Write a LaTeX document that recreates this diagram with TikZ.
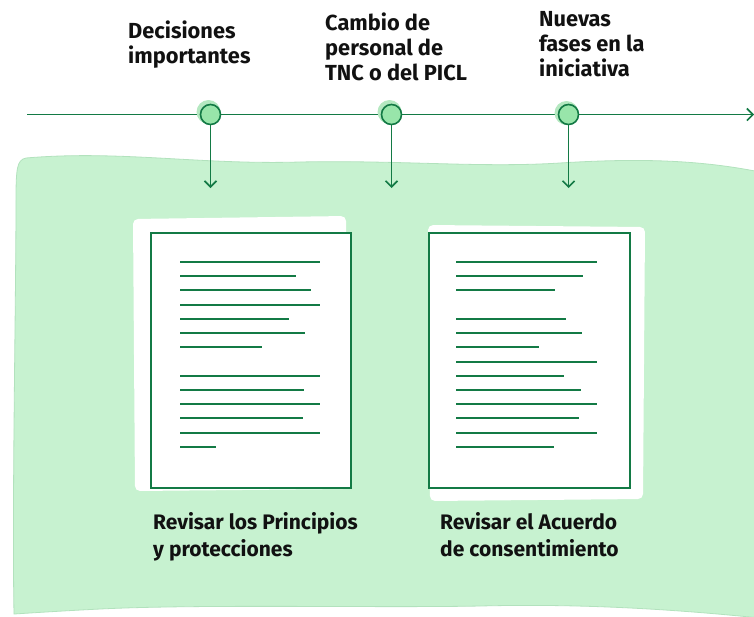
\documentclass[tikz,border=0pt]{standalone}
\usepackage{fontspec}
\setmainfont{Fira Sans}
\usetikzlibrary{arrows.meta}
\definecolor{dkgreen}{HTML}{137A45}
\definecolor{bgreen}{HTML}{C7F2D0}
\definecolor{bedge}{HTML}{B2E2BD}
\definecolor{cgreen}{HTML}{98E5AA}
\definecolor{hgreen}{HTML}{B4E8C0}
\definecolor{txt}{HTML}{111111}
\begin{document}
\begin{tikzpicture}[x=1pt,y=-1pt,
  conn/.style={draw=dkgreen,line width=1.6pt,-{Straight Barb[length=6pt,width=12pt]}},
  event/.style={circle,draw=dkgreen,fill=cgreen,line width=1.6pt,minimum size=20pt,inner sep=0pt},
  halo/.style={circle,fill=hgreen,minimum size=24pt,inner sep=0pt},
  toplabel/.style={anchor=base west,align=left,inner sep=0pt,text=txt,font=\bfseries\fontsize{21.8}{25}\selectfont},
  doclabel/.style={anchor=base west,align=left,inner sep=0pt,text=txt,font=\bfseries\fontsize{21}{27}\selectfont},
  docbox/.style={draw=dkgreen,line width=1.6pt,fill=white,anchor=north west,minimum width=200pt,minimum height=255pt,inner sep=0pt},
  textline/.style={draw=dkgreen,line width=1.8pt}]
\useasboundingbox (0,0) rectangle (754,616);
% background wash
\fill[bgreen,draw=bedge,line width=0.8pt] (26,158) .. controls (120,150) and (200,165) .. (300,162)
  .. controls (400,160) and (480,168) .. (560,163) .. controls (640,158) and (700,160) .. (760,172)
  -- (760,618) .. controls (700,612) and (600,603) .. (480,606)
  .. controls (380,608) and (200,604) .. (100,609) .. controls (60,611) and (30,613) .. (14,614)
  .. controls (12,500) and (16,300) .. (16,200) .. controls (16,168) and (17,160) .. (26,158) -- cycle;
% white halos behind documents
\fill[white,rounded corners=5pt] (133,219) -- (346,216) -- (348,489) -- (135,491) -- cycle;
\fill[white,rounded corners=5pt] (428,225) -- (645,227) -- (643,499) -- (430,501) -- cycle;
% timeline
\coordinate (ts) at (27,114.5);
\coordinate (te) at (754,114.5);
\draw[conn] (ts) -- (te);
\node[halo] at (208.5,112) {};
\node[halo] at (389.5,112) {};
\node[halo] at (566.5,113) {};
\node[event] (c1) at (210.5,114.5) {};
\node[event] (c2) at (391.5,114.5) {};
\node[event] (c3) at (568.5,114.5) {};
\coordinate (a1) at (210.5,188);
\coordinate (a2) at (391.5,188);
\coordinate (a3) at (568.5,188);
\draw[conn] (c1.south) -- (a1);
\draw[conn] (c2.south) -- (a2);
\draw[conn] (c3.south) -- (a3);
% top labels (anchor = baseline of last line)
\node[toplabel] (l1) at (128,63) {Decisiones\\importantes};
\node[toplabel] (l2) at (325,80) {Cambio de\\personal de\\TNC o del PICL};
\node[toplabel] (l3) at (539,76) {Nuevas\\fases en la\\iniciativa};
% documents
\node[docbox] (d1) at (150,232) {};
\node[docbox,minimum width=201pt] (d2) at (428,232) {};
\begin{scope}[shift={(d1.north west)}]
  \foreach \yy/\ll in {30/140,44/116,58/131,73/140,87/109,101/125,115/82,144/140,158/124,172/140,186/123,201/140,215/36}
    \draw[textline] (30,\yy) -- ++(\ll,0);
\end{scope}
\begin{scope}[shift={(d2.north west)}]
  \foreach \yy/\ll in {30/141,44/127,58/99,87/110,101/126,115/83,130/141,144/108,158/125,172/141,186/123,201/141,215/98}
    \draw[textline] (28,\yy) -- ++(\ll,0);
\end{scope}
% document labels (anchor = baseline of last line)
\node[doclabel] (t1) at (153,556) {Revisar los Principios\\y protecciones};
\node[doclabel] (t2) at (440,556) {Revisar el Acuerdo\\de consentimiento};
\end{tikzpicture}
\end{document}
